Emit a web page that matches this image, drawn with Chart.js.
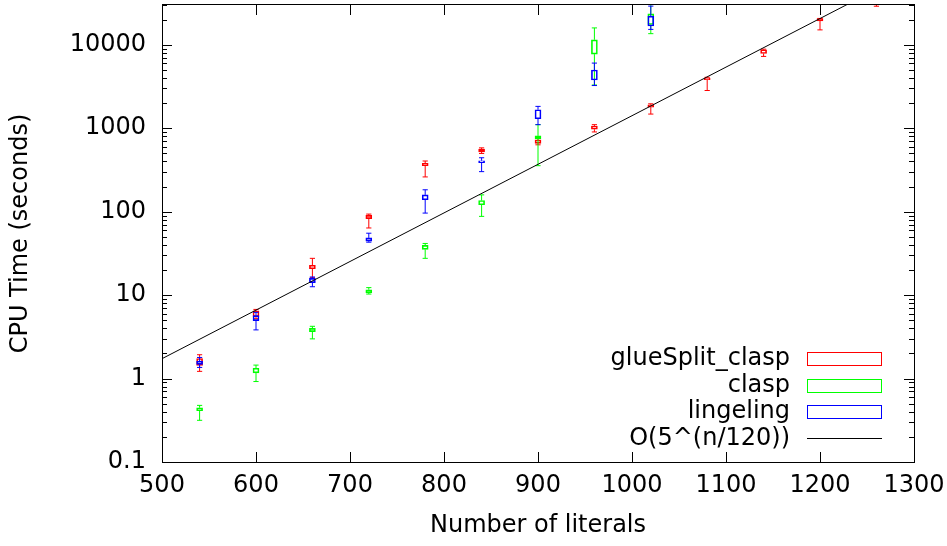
<!DOCTYPE html>
<html><head><meta charset="utf-8">
<script src="https://cdn.jsdelivr.net/npm/chart.js@4.4.1/dist/chart.umd.min.js"></script>
<style>html,body{margin:0;padding:0;background:#fff}#wrap{width:947px;height:546px;position:relative}</style>
</head><body><div id="wrap"><canvas id="c" width="947" height="546"></canvas></div>
<script>
// ---- data ----
const glueX   = [540, 600, 660, 720, 780, 840, 900, 960, 1020, 1080, 1140, 1200, 1260];
const glueMin = [1.22, 5.22, 16.2, 63.8, 261, 499, 633, 903, 1479, 2833, 7260, 15100, 29000];
const glueQ1  = [1.44, 5.52, 20.7, 82.5, 356, 522, 659, 973, 1794, 3830, 7870, 19300, 30500];
const glueQ3  = [1.74, 6.50, 22.8, 90.3, 379, 562, 726, 1065, 1910, 4000, 8720, 20600, 33000];
const glueMax = [1.93, 6.74, 27.6, 93.6, 405, 582, 767, 1104, 1963, 4080, 8870, 20700, 36000];

const claspX   = [540, 600, 660, 720, 780, 840, 900, 960, 1020];
const claspMin = [0.316, 0.921, 2.99, 10.3, 27.6, 87.9, 356, 3300, 13600];
const claspQ1  = [0.411, 1.17, 3.66, 10.7, 35.3, 121, 752, 7730, 17500];
const claspQ3  = [0.447, 1.33, 4.00, 11.6, 39.4, 136, 809, 11480, 23500];
const claspMax = [0.477, 1.45, 4.23, 12.3, 41.6, 159, 1104, 15940, 40000];

const lingX   = [540, 600, 660, 720, 780, 840, 900, 960, 1020];
const lingMin = [1.36, 3.83, 12.6, 43.1, 96.2, 302, 1104, 3250, 15300];
const lingQ1  = [1.48, 4.94, 14.1, 44.3, 139, 387, 1301, 3790, 16800];
const lingQ3  = [1.62, 5.67, 15.9, 48.5, 159, 408, 1665, 4985, 22100];
const lingMax = [1.79, 6.21, 16.5, 55.2, 183, 443, 1828, 6040, 29100];

// O(5^(n/120)) reference line, two end points
const fitX = [500, 1300];
const fitY = [1.73, 79000];

const xTicks = [500, 600, 700, 800, 900, 1000, 1100, 1200, 1300];
const yTicks = [0.1, 1, 10, 100, 1000, 10000];
const seriesNames = ['glueSplit_clasp', 'clasp', 'lingeling', 'O(5^(n/120))'];

const RED = '#ff0000', GREEN = '#00ff00', BLUE = '#0000ff';
const FONT = { family: '"DejaVu Sans", sans-serif', size: 24 };

function whiskers(xs, mn, q1, q3, mx) {
  const d = [];
  xs.forEach((x, i) => {
    d.push({x, y: mn[i]}, {x, y: q1[i]}, {x, y: null},
           {x, y: q3[i]}, {x, y: mx[i]}, {x, y: null});
  });
  return d;
}
function caps(xs, mn, mx) {
  const d = [];
  xs.forEach((x, i) => { d.push({x, y: mn[i]}, {x, y: mx[i]}); });
  return d;
}
function boxes(xs, q1, q3) {
  return xs.map((x, i) => ({x, y: [q1[i], q3[i]]}));
}
function seriesSets(name, color, order, xs, mn, q1, q3, mx) {
  return [
    { type: 'line', label: name + ' whiskers', data: whiskers(xs, mn, q1, q3, mx),
      borderColor: color, borderWidth: 1, pointRadius: 0, spanGaps: false, order },
    { type: 'scatter', label: name + ' caps', data: caps(xs, mn, mx),
      pointStyle: 'line', pointRadius: 2.6, pointBorderWidth: 1, borderColor: color,
      backgroundColor: color, showLine: false, order },
    { type: 'bar', label: name, data: boxes(xs, q1, q3),
      borderColor: color, borderWidth: 1, backgroundColor: 'rgba(0,0,0,0)',
      borderSkipped: false, barThickness: 6, grouped: false, order }
  ];
}

const datasets = [
  { type: 'line', label: seriesNames[3], data: fitX.map((x, i) => ({x, y: fitY[i]})),
    borderColor: '#000', borderWidth: 1, pointRadius: 0, order: 0 },
  ...seriesSets(seriesNames[2], BLUE, 1, lingX, lingMin, lingQ1, lingQ3, lingMax),
  ...seriesSets(seriesNames[1], GREEN, 2, claspX, claspMin, claspQ1, claspQ3, claspMax),
  ...seriesSets(seriesNames[0], RED, 3, glueX, glueMin, glueQ1, glueQ3, glueMax)
];

const framePlugin = {
  id: 'frame',
  afterDraw(chart) {
    const {ctx, chartArea: a, scales: {x, y}} = chart;
    ctx.save();
    ctx.strokeStyle = '#000';
    ctx.lineWidth = 1;
    ctx.beginPath();
    xTicks.forEach(v => {
      const p = Math.round(x.getPixelForValue(v)) + 0.5;
      ctx.moveTo(p, a.bottom); ctx.lineTo(p, a.bottom - 10);
      ctx.moveTo(p, a.top); ctx.lineTo(p, a.top + 10);
    });
    yTicks.forEach(v => {
      const p = Math.round(y.getPixelForValue(v)) + 0.5;
      ctx.moveTo(a.left, p); ctx.lineTo(a.left + 10, p);
      ctx.moveTo(a.right, p); ctx.lineTo(a.right - 10, p);
      for (let k = 2; k <= 9; k++) {
        const mv = v * k;
        if (mv > y.max) break;
        const q = Math.round(y.getPixelForValue(mv)) + 0.5;
        ctx.moveTo(a.left, q); ctx.lineTo(a.left + 5, q);
        ctx.moveTo(a.right, q); ctx.lineTo(a.right - 5, q);
      }
    });
    ctx.stroke();
    ctx.strokeRect(a.left + 0.5, a.top - 0.5, a.right - a.left, a.bottom - a.top + 1);

    // key (bottom right, gnuplot style)
    const colors = [RED, GREEN, BLUE, '#000'];
    ctx.font = '24px "DejaVu Sans", sans-serif';
    ctx.textAlign = 'right';
    ctx.textBaseline = 'alphabetic';
    seriesNames.forEach((n, i) => {
      const cy = 358.8 + i * 26.4;
      ctx.fillStyle = '#000';
      ctx.fillText(n, 790, cy + 6.5);
      ctx.strokeStyle = colors[i];
      if (i < 3) {
        ctx.strokeRect(807.5, Math.round(cy - 6.5) + 0.5, 74, 13);
      } else {
        ctx.beginPath();
        ctx.moveTo(807, Math.round(cy) + 0.5); ctx.lineTo(882, Math.round(cy) + 0.5);
        ctx.stroke();
      }
    });
    ctx.restore();
  }
};

new Chart(document.getElementById('c'), {
  type: 'line',
  data: { datasets },
  options: {
    responsive: false, animation: false, devicePixelRatio: 1, events: [],
    layout: { padding: { left: 0, right: 33, top: 3, bottom: 0 } },
    plugins: { legend: { display: false }, tooltip: { enabled: false } },
    scales: {
      x: {
        type: 'linear', min: 500, max: 1300, offset: false,
        afterBuildTicks(s) { s.ticks = xTicks.map(v => ({value: v})); },
        ticks: { font: FONT, color: '#000', padding: 9, maxRotation: 0, autoSkip: false,
                 callback: (v) => String(v) },
        grid: { display: false, drawTicks: false }, border: { display: false },
        title: { display: true, text: 'Number of literals', font: FONT, color: '#000', padding: {top: 4, bottom: 6} },
        afterFit(s) { s.height = 84; s.paddingLeft = 0; s.paddingRight = 0; }
      },
      y: {
        type: 'logarithmic', min: 0.1, max: 30000,
        afterBuildTicks(s) { s.ticks = yTicks.map(v => ({value: v})); },
        ticks: { font: FONT, color: '#000', padding: 16, autoSkip: false,
                 callback: (v) => String(v) },
        grid: { display: false, drawTicks: false }, border: { display: false },
        title: { display: true, text: 'CPU Time (seconds)', font: FONT, color: '#000', padding: {top: 6, bottom: 4} },
        afterFit(s) { s.width = 162; s.paddingTop = 0; s.paddingBottom = 0; }
      }
    }
  },
  plugins: [framePlugin]
});
</script>
</body></html>
